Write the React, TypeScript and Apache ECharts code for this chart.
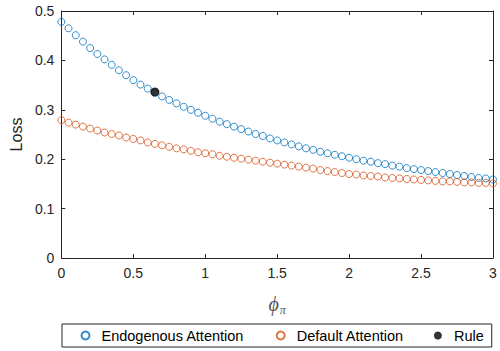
import React, { useEffect, useRef } from "react";
import * as echarts from "echarts";

const phiValues: number[] = [
  0, 0.05, 0.1, 0.15, 0.2, 0.25, 0.3, 0.35, 0.4, 0.45,
  0.5, 0.55, 0.6, 0.65, 0.7, 0.75, 0.8, 0.85, 0.9, 0.95,
  1, 1.05, 1.1, 1.15, 1.2, 1.25, 1.3, 1.35, 1.4, 1.45,
  1.5, 1.55, 1.6, 1.65, 1.7, 1.75, 1.8, 1.85, 1.9, 1.95,
  2, 2.05, 2.1, 2.15, 2.2, 2.25, 2.3, 2.35, 2.4, 2.45,
  2.5, 2.55, 2.6, 2.65, 2.7, 2.75, 2.8, 2.85, 2.9, 2.95, 3,
];

const endogenousLoss: number[] = [
  0.478, 0.465, 0.451, 0.438, 0.425, 0.413, 0.402, 0.391, 0.38, 0.37,
  0.36, 0.351, 0.343, 0.335, 0.327, 0.32, 0.313, 0.306, 0.3, 0.294,
  0.288, 0.282, 0.276, 0.271, 0.266, 0.261, 0.256, 0.251, 0.247, 0.242,
  0.238, 0.234, 0.23, 0.226, 0.222, 0.219, 0.215, 0.212, 0.209, 0.206,
  0.203, 0.2, 0.197, 0.195, 0.192, 0.19, 0.187, 0.185, 0.182, 0.18,
  0.178, 0.176, 0.174, 0.172, 0.17, 0.168, 0.166, 0.164, 0.162, 0.161, 0.159,
];

const defaultLoss: number[] = [
  0.279, 0.274, 0.27, 0.266, 0.262, 0.258, 0.254, 0.251, 0.248, 0.244,
  0.241, 0.238, 0.234, 0.231, 0.228, 0.225, 0.222, 0.22, 0.217, 0.214,
  0.212, 0.21, 0.207, 0.205, 0.203, 0.201, 0.199, 0.197, 0.195, 0.193,
  0.191, 0.189, 0.187, 0.185, 0.183, 0.181, 0.178, 0.176, 0.174, 0.172,
  0.17, 0.169, 0.167, 0.166, 0.165, 0.163, 0.162, 0.161, 0.16, 0.159,
  0.158, 0.157, 0.156, 0.155, 0.155, 0.154, 0.153, 0.153, 0.152, 0.152, 0.151,
];

const rulePoint: [number, number] = [0.65, 0.336];

const seriesNames = ["Endogenous Attention", "Default Attention", "Rule"];

const BLUE = "#0072BD";
const ORANGE = "#D95319";
const AXIS = "#262626";
const FONT = "'Liberation Sans', Arial, Helvetica, sans-serif";
const SERIF = "'Liberation Serif', 'DejaVu Serif', serif";

export default function App() {
  const ref = useRef<HTMLDivElement>(null);

  useEffect(() => {
    document.body.style.margin = "0";
    if (!ref.current) return;
    const chart = echarts.init(ref.current, undefined, { renderer: "svg" });

    const axisCommon = {
      min: 0,
      axisLine: { show: true, onZero: false, lineStyle: { color: AXIS, width: 1 } },
      axisTick: { show: true, inside: true, length: 4, lineStyle: { color: AXIS } },
      splitLine: { show: false },
    };

    chart.setOption({
      animation: false,
      backgroundColor: "#ffffff",
      textStyle: { fontFamily: FONT },
      grid: { left: 60, right: 7, top: 11, bottom: 93, containLabel: false },
      xAxis: [
        {
          ...axisCommon,
          type: "value",
          max: 3,
          interval: 0.5,
          position: "bottom",
          axisLabel: { color: AXIS, fontSize: 14, margin: 8, fontFamily: FONT },
          name: "{p|ϕ}{s|π}",
          nameLocation: "middle",
          nameGap: 34,
          nameTextStyle: {
            rich: {
              p: { fontSize: 20, fontStyle: "italic", fontWeight: "normal", fontFamily: SERIF, color: "#555", lineHeight: 24, verticalAlign: "middle" },
              s: { fontSize: 12, fontStyle: "italic", fontWeight: "normal", fontFamily: SERIF, color: "#555", lineHeight: 12, verticalAlign: "bottom", padding: [10, 0, 0, 1] },
            },
          },
        },
        {
          ...axisCommon,
          type: "value",
          max: 3,
          interval: 0.5,
          position: "top",
          axisLabel: { show: false },
        },
      ],
      yAxis: [
        {
          ...axisCommon,
          type: "value",
          max: 0.5,
          interval: 0.1,
          position: "left",
          axisLabel: { color: AXIS, fontSize: 14, margin: 7, fontFamily: FONT },
          name: "Loss",
          nameLocation: "middle",
          nameGap: 36,
          nameTextStyle: { color: AXIS, fontSize: 16, fontFamily: FONT },
        },
        {
          ...axisCommon,
          type: "value",
          max: 0.5,
          interval: 0.1,
          position: "right",
          axisLabel: { show: false },
        },
      ],
      legend: {
        show: true,
        left: 62,
        top: 324,
        orient: "horizontal",
        data: seriesNames,
        itemWidth: 22,
        itemHeight: 8,
        itemGap: 30,
        padding: [4, 8, 4, 17],
        borderColor: AXIS,
        borderWidth: 1,
        borderRadius: 0,
        textStyle: { color: "#000", fontSize: 14.5, fontFamily: FONT },
      },
      series: [
        {
          name: seriesNames[0],
          type: "scatter",
          symbol: "circle",
          symbolSize: 7,
          itemStyle: { color: "none", borderColor: BLUE, borderWidth: 1 },
          data: phiValues.map((x, i) => [x, endogenousLoss[i]]),
          z: 2,
        },
        {
          name: seriesNames[1],
          type: "scatter",
          symbol: "circle",
          symbolSize: 7,
          itemStyle: { color: "none", borderColor: ORANGE, borderWidth: 1 },
          data: phiValues.map((x, i) => [x, defaultLoss[i]]),
          z: 2,
        },
        {
          name: seriesNames[2],
          type: "scatter",
          symbol: "circle",
          symbolSize: 9,
          itemStyle: { color: "#000", borderColor: "#000", borderWidth: 0 },
          data: [rulePoint],
          z: 3,
        },
      ],
    });

    return () => {
      chart.dispose();
    };
  }, []);

  return <div ref={ref} style={{ width: 500, height: 351 }} />;
}
